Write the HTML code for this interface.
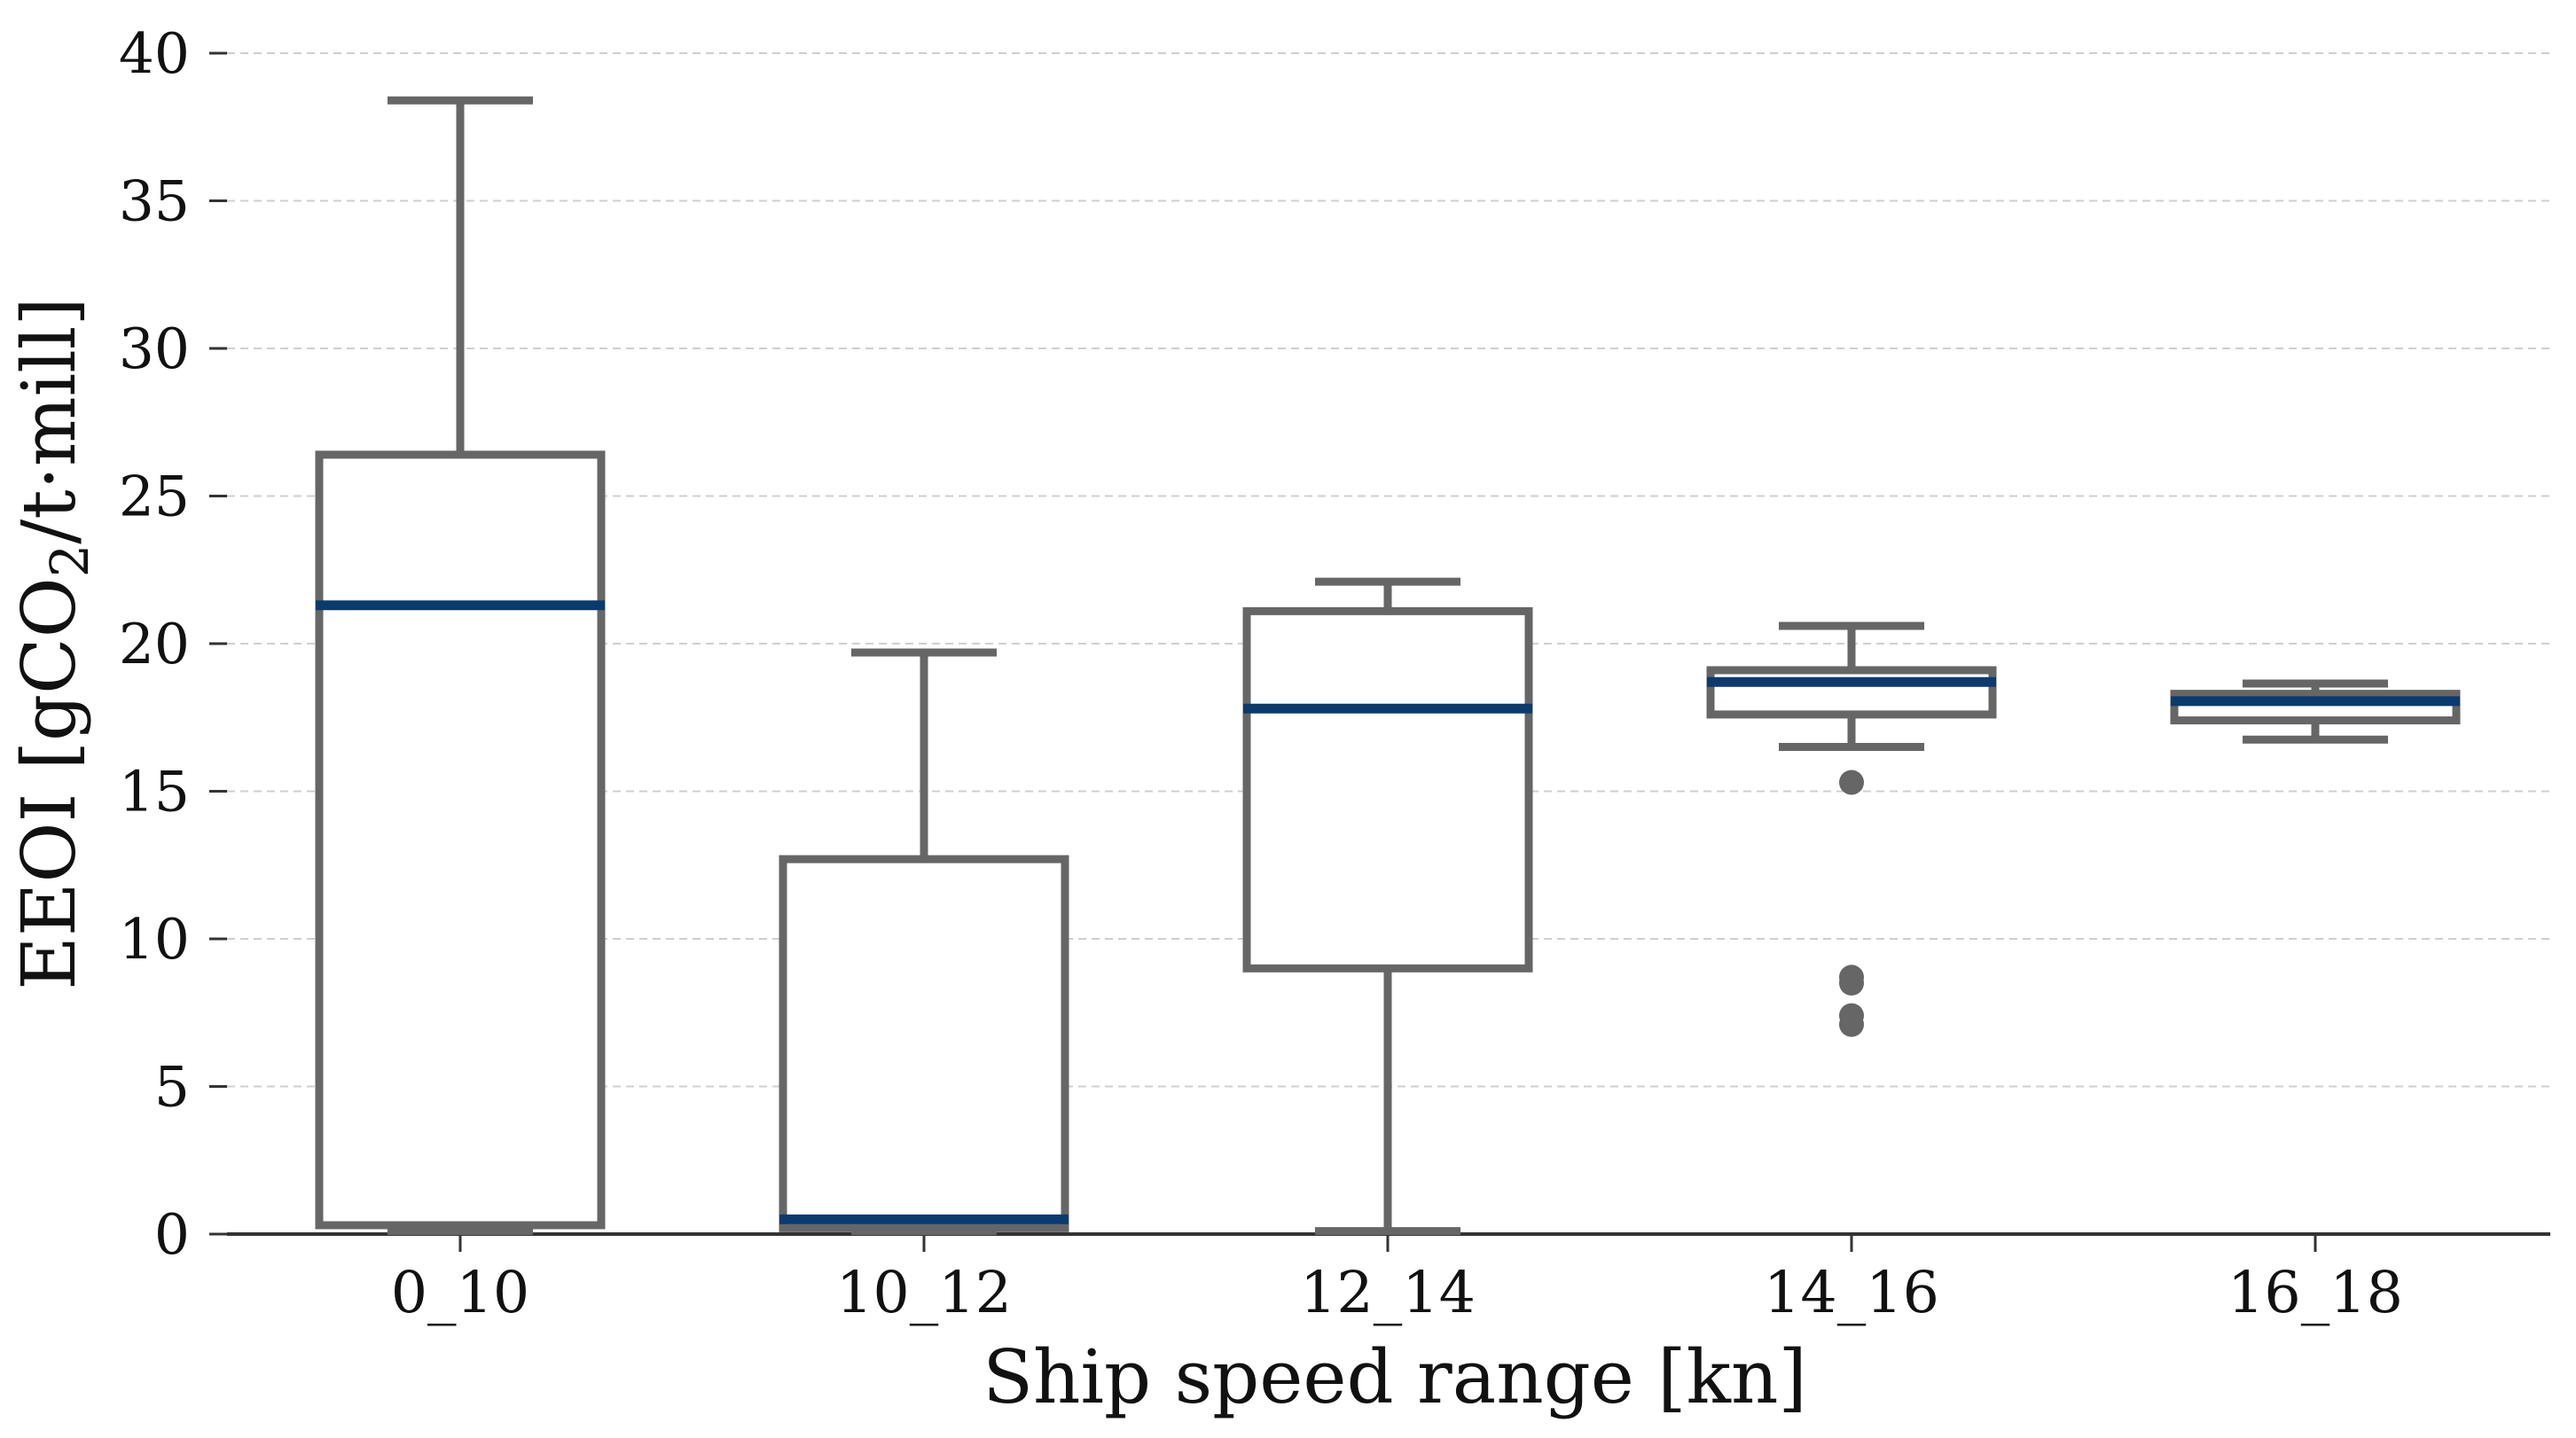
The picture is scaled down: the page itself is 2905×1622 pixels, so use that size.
<!DOCTYPE html>
<html><head><meta charset="utf-8"><style>
html,body{margin:0;padding:0;background:#fff;}
svg{display:block;font-family:"DejaVu Serif","Liberation Serif",serif;}
</style></head><body>
<svg id="chart" width="2905" height="1622" viewBox="0 0 2905 1622" xmlns="http://www.w3.org/2000/svg">
<g id="grid"></g>
<g id="yaxis"></g>
<g id="xaxis"></g>
<g id="boxes"></g>
<text x="1573" y="1582" font-size="83" text-anchor="middle" fill="#111">Ship speed range [kn]</text>
<text transform="translate(84,726) rotate(-90)" font-size="83" text-anchor="middle" fill="#111">EEOI [gCO<tspan font-size="59" dy="15">2</tspan><tspan dy="-15">/t·mill]</tspan></text>
</svg>
<script>
const categories = ["0_10","10_12","12_14","14_16","16_18"];
const whiskerLow = [0.1, 0.1, 0.1, 16.5, 16.75];
const q1 = [0.3, 0.2, 9.0, 17.6, 17.4];
const medians = [21.3, 0.5, 17.8, 18.7, 18.05];
const q3 = [26.4, 12.7, 21.1, 19.1, 18.3];
const whiskerHigh = [38.4, 19.7, 22.1, 20.6, 18.65];
const outliers = [[], [], [], [15.3, 8.7, 8.5, 7.4, 7.1], []];
const yTicks = [0,5,10,15,20,25,30,35,40];

const NS = "http://www.w3.org/2000/svg";
const x0 = 256, x1 = 2876;
const yScale = v => 1392 - v * (1332 / 40);
const xScale = i => 519 + i * 523;
const boxW = 318, capW = 164;
function mk(tag, attrs, parent){ const e=document.createElementNS(NS,tag); for(const k in attrs) e.setAttribute(k,attrs[k]); parent.appendChild(e); return e; }

const grid = document.getElementById('grid'), ya = document.getElementById('yaxis'), xa = document.getElementById('xaxis'), bx = document.getElementById('boxes');
yTicks.forEach(t => {
  const y = yScale(t);
  if (t > 0) {
    const g = mk('line',{x1:x0,x2:x1,y1:y,y2:y,stroke:'#cfcfcf','stroke-width':2,'stroke-dasharray':'9,6'},grid);
    
    
  }
  const tk = mk('line',{x1:236,x2:256,y1:y,y2:y,stroke:'#333','stroke-width':3},ya);
  
  
  const lb = mk('text',{x:214,y:y+22,'font-size':63,'text-anchor':'end',fill:'#111'},ya);
  
  
  lb.textContent = t;
});
const base = mk('line',{x1:x0,x2:x1,y1:yScale(0),y2:yScale(0),stroke:'#333','stroke-width':4},xa);


categories.forEach((c,i) => {
  const x = xScale(i);
  const tk = mk('line',{x1:x,x2:x,y1:yScale(0),y2:yScale(0)+20,stroke:'#333','stroke-width':3},xa);
  
  
  const lb = mk('text',{x:x,y:1480,'font-size':65,'text-anchor':'middle',fill:'#111'},xa);
  
  
  lb.textContent = c;

  const g = mk('g',{},bx);
  
  
  const st = {stroke:'#666','stroke-width':9,fill:'none'};
  mk('line',Object.assign({x1:x,x2:x,y1:yScale(q3[i]),y2:yScale(whiskerHigh[i])},st),g);
  mk('line',Object.assign({x1:x,x2:x,y1:yScale(q1[i]),y2:yScale(whiskerLow[i])},st),g);
  mk('line',Object.assign({x1:x-capW/2,x2:x+capW/2,y1:yScale(whiskerHigh[i]),y2:yScale(whiskerHigh[i])},st),g);
  mk('line',Object.assign({x1:x-capW/2,x2:x+capW/2,y1:yScale(whiskerLow[i]),y2:yScale(whiskerLow[i])},st),g);
  mk('rect',Object.assign({x:x-boxW/2,y:yScale(q3[i]),width:boxW,height:yScale(q1[i])-yScale(q3[i])},st,{fill:'#fff'}),g);
  mk('line',{x1:x-boxW/2-4,x2:x+boxW/2+4,y1:yScale(medians[i]),y2:yScale(medians[i]),stroke:'#0b3a6e','stroke-width':11},g);
  outliers[i].forEach(v => {
    const o = mk('circle',{cx:x,cy:yScale(v),r:14,fill:'#666'},g);
    
    
  });
});
</script>
</body></html>
